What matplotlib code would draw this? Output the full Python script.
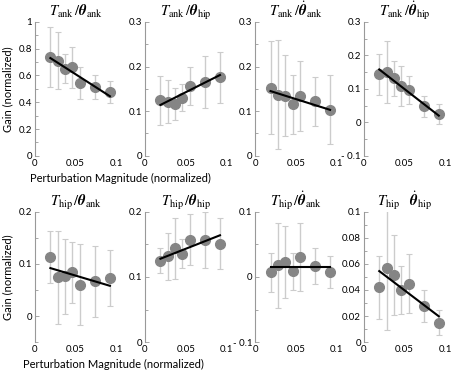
import numpy as np
import matplotlib
matplotlib.use("Agg")
import matplotlib.pyplot as plt
from matplotlib.ticker import MultipleLocator

plt.rcParams['font.family'] = ['Lato', 'DejaVu Sans']
plt.rcParams['mathtext.fontset'] = 'stix'

# perturbation magnitudes (same for every panel)
mag = [0.019, 0.028, 0.037, 0.046, 0.055, 0.074, 0.092]

titles = [
    r'$T_{\rm ank}\,/\boldsymbol{\theta}_{\rm ank}$',
    r'$T_{\rm ank}\,/\boldsymbol{\theta}_{\rm hip}$',
    r'$T_{\rm ank}\,/\dot{\boldsymbol{\theta}}_{\rm ank}$',
    r'$T_{\rm ank}\,/\dot{\boldsymbol{\theta}}_{\rm hip}$',
    r'$T_{\rm hip}\,/\boldsymbol{\theta}_{\rm ank}$',
    r'$T_{\rm hip}\,/\boldsymbol{\theta}_{\rm hip}$',
    r'$T_{\rm hip}\,/\dot{\boldsymbol{\theta}}_{\rm ank}$',
    r'$T_{\rm hip}\quad\dot{\boldsymbol{\theta}}_{\rm hip}$',
]

gain_1 = [0.74, 0.71, 0.65, 0.66, 0.545, 0.515, 0.475]
err_1 = [0.225, 0.213, 0.11, 0.15, 0.12, 0.09, 0.08]
gain_2 = [0.124, 0.121, 0.116, 0.13, 0.156, 0.165, 0.176]
err_2 = [0.054, 0.048, 0.035, 0.03, 0.043, 0.058, 0.057]
gain_3 = [0.153, 0.137, 0.135, 0.115, 0.134, 0.122, 0.103]
err_3 = [0.105, 0.122, 0.09, 0.067, 0.079, 0.055, 0.077]
gain_4 = [0.143, 0.150, 0.131, 0.109, 0.096, 0.048, 0.024]
err_4 = [0.06, 0.092, 0.053, 0.059, 0.042, 0.032, 0.03]
gain_5 = [0.114, 0.074, 0.076, 0.084, 0.060, 0.067, 0.073]
err_5 = [0.05, 0.09, 0.072, 0.059, 0.078, 0.068, 0.054]
gain_6 = [0.125, 0.132, 0.144, 0.136, 0.157, 0.157, 0.151]
err_6 = [0.019, 0.036, 0.047, 0.022, 0.039, 0.043, 0.039]
gain_7 = [0.0075, 0.0180, 0.0230, 0.0085, 0.031, 0.017, 0.0075]
err_7 = [0.03, 0.065, 0.056, 0.028, 0.0525, 0.028, 0.024]
gain_8 = [0.042, 0.0565, 0.0515, 0.040, 0.0447, 0.028, 0.015]
err_8 = [0.024, 0.047, 0.0305, 0.0185, 0.0227, 0.0123, 0.0098]

# linear fit values at first and last magnitude
fit_start = [0.730, 0.114, 0.145, 0.158, 0.092, 0.128, 0.016, 0.0545]
fit_end = [0.445, 0.181, 0.103, 0.020, 0.058, 0.164, 0.016, 0.0198]

gains = [gain_1, gain_2, gain_3, gain_4, gain_5, gain_6, gain_7, gain_8]
errs = [err_1, err_2, err_3, err_4, err_5, err_6, err_7, err_8]

ylims = [(0, 1), (0, 0.3), (0, 0.3), (-0.1, 0.3),
         (-0.05, 0.2), (0, 0.2), (-0.1, 0.1), (0, 0.1)]
ysteps = [0.2, 0.1, 0.1, 0.1, 0.1, 0.1, 0.1, 0.02]

fig = plt.figure(figsize=(4.53, 3.71), dpi=100)

lefts = [0.077, 0.320, 0.563, 0.803]
width = 0.18

for i in range(8):
    row, col = divmod(i, 4)
    if row == 0:
        ax = fig.add_axes([lefts[col], 0.58, width, 0.361])
    else:
        ax = fig.add_axes([lefts[col], 0.078, width, 0.351])
    ax.errorbar(mag, gains[i], yerr=errs[i], fmt='none', ecolor='#cccccc',
                elinewidth=1.0, capsize=2.5, capthick=0.8, zorder=1)
    ax.plot(mag, gains[i], 'o', color='#858585', markersize=7, zorder=2)
    ax.plot([mag[0], mag[-1]], [fit_start[i], fit_end[i]], color='black',
            lw=1.5, zorder=3)
    ax.set_xlim(0, 0.1)
    ax.set_ylim(*ylims[i])
    ax.set_xticks([0, 0.05, 0.1])
    ax.set_xticklabels(['0', '0.05', '0.1'])
    ax.yaxis.set_major_locator(MultipleLocator(ysteps[i]))
    ax.yaxis.set_minor_locator(MultipleLocator(ysteps[i] / 2))
    ax.yaxis.set_major_formatter(plt.FuncFormatter(lambda v, p: ('%g' % round(v, 3)).replace('-', '- ')))
    for s in ['top', 'right', 'bottom']:
        ax.spines[s].set_visible(False)
    ax.spines['left'].set_color('#999999')
    ax.spines['left'].set_linewidth(0.8)
    ax.tick_params(axis='y', direction='in', length=3, width=0.6,
                   color='#999999', labelsize=7, pad=2)
    ax.tick_params(axis='y', which='minor', direction='in', length=2,
                   width=0.6, color='#999999')
    ax.tick_params(axis='x', length=0, labelsize=7, pad=2)
    ax.set_title(titles[i], fontsize=10.5, pad=4)
    if col == 0:
        ax.set_ylabel('Gain (normalized)', fontsize=8, labelpad=4)

fig.text(0.265, 0.52, 'Perturbation Magnitude (normalized)', ha='center',
         va='center', fontsize=8)
fig.text(0.25, 0.018, 'Perturbation Magnitude (normalized)', ha='center',
         va='center', fontsize=8)

fig.savefig('out.png', dpi=100)
